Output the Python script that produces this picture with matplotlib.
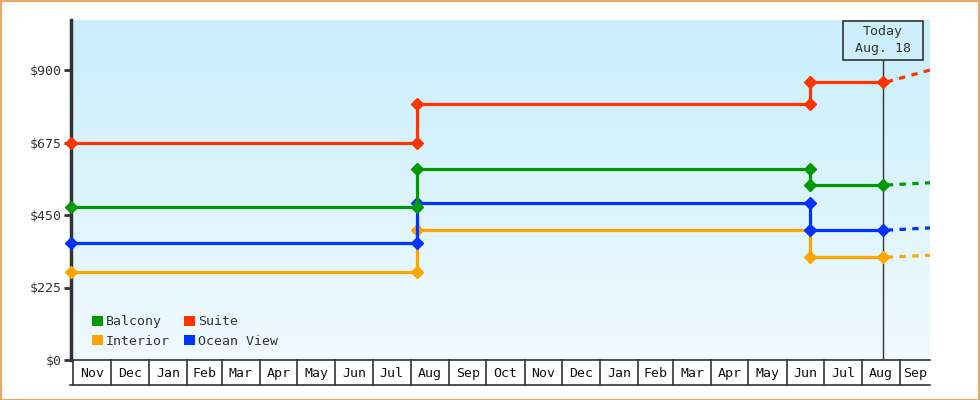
import datetime as dt
import numpy as np
import matplotlib
matplotlib.use('Agg')
import matplotlib.pyplot as plt
import matplotlib.dates as mdates
from matplotlib.patches import Rectangle, Patch
from matplotlib.transforms import blended_transform_factory

plt.rcParams['font.family'] = ['DejaVu Sans Mono']

# price history, one value per fare period
series = ['Interior', 'Ocean View', 'Balcony', 'Suite']   # draw order
legend_order = ['Balcony', 'Interior', 'Suite', 'Ocean View']  # column-wise fill
colors = {'Balcony': '#009a00', 'Suite': '#ff3300',
          'Interior': '#ffa500', 'Ocean View': '#0033ff'}
change_dates = [dt.date(2012, 10, 30), dt.date(2013, 8, 6), dt.date(2014, 6, 20)]
today = dt.date(2014, 8, 18)
forecast_end = dt.date(2014, 9, 25)
prices = {
    'Suite':      [675, 795, 863],
    'Balcony':    [475, 593, 543],
    'Ocean View': [362, 486, 403],
    'Interior':   [272, 403, 319],
}
forecast = {'Suite': 900, 'Balcony': 550, 'Ocean View': 410, 'Interior': 325}
yticks = [0, 225, 450, 675, 900]
months = ['Nov', 'Dec', 'Jan', 'Feb', 'Mar', 'Apr', 'May', 'Jun', 'Jul', 'Aug',
          'Sep', 'Oct', 'Nov', 'Dec', 'Jan', 'Feb', 'Mar', 'Apr', 'May', 'Jun',
          'Jul', 'Aug', 'Sep']

W, H = 980, 400
fig = plt.figure(figsize=(W / 100, H / 100), dpi=100)
fig.patches.append(Rectangle((0.5 / W, 0.5 / H), 1 - 1.5 / W, 1 - 1.5 / H,
                             transform=fig.transFigure, fill=False,
                             edgecolor='#e8a965', lw=1.5))

x0, x1, ytop, ybot = 71, 930, 20, 360
ax = fig.add_axes([x0 / W, (H - ybot) / H, (x1 - x0) / W, (ybot - ytop) / H])
xmin = mdates.date2num(change_dates[0])
xmax = mdates.date2num(forecast_end)
ymax = (ybot - ytop) / ((ybot - 70) / 900.0)
ax.set_xlim(xmin, xmax)
ax.set_ylim(0, ymax)

# background gradient
grad = np.linspace(0, 1, 256).reshape(-1, 1)
top_c = np.array([200, 238, 252]) / 255.0
bot_c = np.array([240, 250, 255]) / 255.0
img = top_c[None, None, :] * (1 - grad[:, :, None]) + bot_c[None, None, :] * grad[:, :, None]
ax.imshow(img, extent=[xmin, xmax, 0, ymax], aspect='auto', origin='upper', zorder=0)

tnum = mdates.date2num(today)
for name in series:
    v = prices[name]
    d = [mdates.date2num(x) for x in change_dates]
    xs = [d[0], d[1], d[1], d[2], d[2], tnum]
    ys = [v[0], v[0], v[1], v[1], v[2], v[2]]
    ax.plot(xs, ys, color=colors[name], lw=2.3, marker='D', ms=6, zorder=3,
            clip_on=False)
    ax.plot([tnum + 3, xmax], [v[2], forecast[name]], color=colors[name],
            lw=2.3, ls=(0, (2, 2)), zorder=3)

# today marker
trans = blended_transform_factory(ax.transData, ax.transAxes)
box_bot = 1 - 40.0 / (ybot - ytop)
ax.plot([tnum, tnum], [0, box_bot], transform=trans, color='#333333', lw=1, zorder=2)
half = 40.0 / ((x1 - x0) / (xmax - xmin))
ax.add_patch(Rectangle((tnum - half, box_bot), 2 * half, 1 - box_bot - 0.003,
                       transform=trans, facecolor='#cdeffb', edgecolor='#333333',
                       lw=1.2, zorder=4, clip_on=False))
ax.text(tnum, (1 + box_bot) / 2, 'Today\nAug. 18', transform=trans, ha='center',
        va='center', fontsize=9.5, color='#333333', linespacing=1.35, zorder=5)

ax.set_xticks([])
ax.set_yticks(yticks)
ax.set_yticklabels(['$' + str(t) for t in yticks], fontsize=9.5, color='#333333')
ax.tick_params(axis='y', length=5, width=2, color='#333333', pad=2)
for s in ['top', 'right', 'bottom']:
    ax.spines[s].set_visible(False)
ax.spines['left'].set_color('#333333')
ax.spines['left'].set_linewidth(2.5)

handles = [Patch(facecolor=colors[n], edgecolor='none') for n in legend_order]
ax.legend(handles, legend_order, ncol=2, frameon=False, loc='lower left',
          bbox_to_anchor=(21.0 / (x1 - x0), 12.0 / (ybot - ytop)), borderpad=0,
          borderaxespad=0, handlelength=0.8, handleheight=0.8, handletextpad=0.25,
          columnspacing=1.1, labelspacing=0.5, prop={'size': 9.5},
          labelcolor='#333333')

# month strip under the plot
axm = fig.add_axes([x0 / W, (H - 385) / H, (x1 - x0) / W, 25.0 / H])
axm.set_xlim(xmin, xmax)
axm.set_ylim(0, 1)
axm.axis('off')
starts = []
y, m = 2012, 11
for i in range(len(months) + 1):
    starts.append(mdates.date2num(dt.date(y, m, 1)))
    m += 1
    if m > 12:
        m, y = 1, y + 1
for i, lab in enumerate(months):
    a = max(starts[i], xmin)
    b = min(starts[i + 1], xmax)
    axm.text((a + b) / 2, 0.45, lab, ha='center', va='center', fontsize=9.5, color='#111111')
    axm.plot([starts[i], starts[i]], [0, 1], color='#333333', lw=1.2, clip_on=False)
axm.plot([starts[0], xmax], [1, 1], color='#333333', lw=1.2, clip_on=False)
axm.plot([xmin - 1, xmax], [0, 0], color='#333333', lw=1.2, clip_on=False)

fig.savefig('out.png', dpi=100)
